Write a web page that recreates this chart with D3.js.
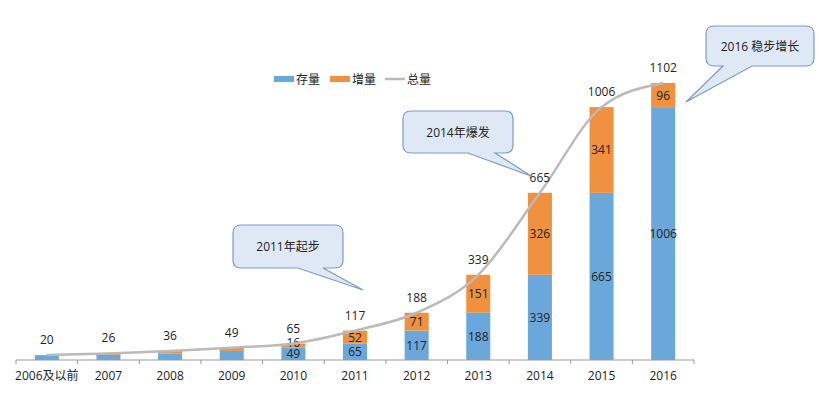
<!DOCTYPE html>
<html>
<head>
<meta charset="utf-8">
<script src="https://cdn.jsdelivr.net/npm/d3@7"></script>
<style>
  body { margin: 0; background: #fff; }
  svg text { font-family: "Open Sans", "Noto Sans CJK SC", sans-serif; fill: #222; }
</style>
</head>
<body>
<svg id="chart" width="819" height="396"></svg>
<script>
// ── Data ────────────────────────────────────────────
const years = ['2006及以前', '2007', '2008', '2009', '2010', '2011', '2012', '2013', '2014', '2015', '2016'];
const stock = [16, 20, 26, 36, 49, 65, 117, 188, 339, 665, 1006];
const increment = [4, 6, 10, 13, 16, 52, 71, 151, 326, 341, 96];
const total = [20, 26, 36, 49, 65, 117, 188, 339, 665, 1006, 1102];
const innerLabelFrom = 4; // inner labels shown from 2010 on

const notes = [
  { text: '2011年起步', box: [233, 225, 110, 43], base: [298, 323], tip: [363, 290] },
  { text: '2014年爆发', box: [403, 111, 110, 42], base: [468, 495], tip: [531, 176] },
  { text: '2016 稳步增长', box: [706, 26, 108, 40], base: [723, 752], tip: [686, 102] },
];

const COLORS = { stock: '#6aa8dc', inc: '#f0913f', total: '#bababa' };

// ── Scales ──────────────────────────────────────────
const svg = d3.select('#chart');
const x = d3.scaleBand().domain(years).range([16, 694]).paddingInner(0.61).paddingOuter(0.305);
const y = d3.scaleLinear().domain([0, 1102]).range([360, 83]);

const rows = years.map((yr, i) => ({ yr, i, s: stock[i], inc: increment[i], t: total[i] }));
const cx = d => x(d.yr) + x.bandwidth() / 2;

// ── Bars ────────────────────────────────────────────
const g = svg.append('g');
g.selectAll('.bar-s').data(rows).join('rect')
  .attr('x', d => x(d.yr)).attr('width', x.bandwidth())
  .attr('y', d => y(d.s)).attr('height', d => y(0) - y(d.s))
  .attr('fill', COLORS.stock);
g.selectAll('.bar-i').data(rows).join('rect')
  .attr('x', d => x(d.yr)).attr('width', x.bandwidth())
  .attr('y', d => y(d.s + d.inc)).attr('height', d => y(d.s) - y(d.s + d.inc))
  .attr('fill', COLORS.inc);

// axis
const axis = svg.append('g').attr('transform', `translate(0,${y(0)})`);
axis.append('line').attr('x1', 16).attr('x2', 694).attr('stroke', '#999').attr('stroke-width', 1.2);
const bounds = d3.range(years.length + 1).map(i => 16 + i * x.step());
axis.selectAll('.tk').data(bounds).join('line')
  .attr('x1', d => d).attr('x2', d => d).attr('y1', 0).attr('y2', 4)
  .attr('stroke', '#999');
axis.selectAll('.lbl').data(years).join('text')
  .attr('x', d => x(d) + x.bandwidth() / 2).attr('y', 20)
  .attr('text-anchor', 'middle').attr('font-size', 12).text(d => d);

// inner labels
const inner = rows.filter(d => d.i >= innerLabelFrom);
g.selectAll('.ls').data(inner).join('text')
  .attr('x', cx)
  .attr('y', d => (y(0) + y(d.s)) / 2 + 4.5)
  .attr('text-anchor', 'middle').attr('font-size', 12).text(d => d.s);
g.selectAll('.li').data(inner).join('text')
  .attr('x', cx)
  .attr('y', d => d.i === 4 ? y(d.s) - 1 : (y(d.s) + y(d.s + d.inc)) / 2 + 4.5)
  .attr('text-anchor', 'middle').attr('font-size', 12).text(d => d.inc);

// total line
const line = d3.line().x(cx).y(d => y(d.t)).curve(d3.curveMonotoneX);
svg.append('path').datum(rows).attr('d', line)
  .attr('fill', 'none').attr('stroke', COLORS.total).attr('stroke-width', 2.5);

// total labels
svg.selectAll('.lt').data(rows).join('text')
  .attr('x', cx)
  .attr('y', d => y(d.t) - 11)
  .attr('text-anchor', 'middle').attr('font-size', 12).text(d => d.t);

// ── Legend ──────────────────────────────────────────
const legend = svg.append('g').attr('transform', 'translate(274,79)');
const legItems = [
  { name: '存量', color: COLORS.stock, type: 'rect', dx: 0 },
  { name: '增量', color: COLORS.inc, type: 'rect', dx: 56 },
  { name: '总量', color: COLORS.total, type: 'line', dx: 111 },
];
legItems.forEach(it => {
  const lg = legend.append('g').attr('transform', `translate(${it.dx},0)`);
  if (it.type === 'rect') lg.append('rect').attr('x', 0).attr('y', -3).attr('width', 20).attr('height', 6).attr('fill', it.color);
  else lg.append('line').attr('x1', 0).attr('x2', 20).attr('stroke', it.color).attr('stroke-width', 2.5);
  lg.append('text').attr('x', 22).attr('y', 4.5).attr('font-size', 12).text(it.name);
});

// ── Callouts ────────────────────────────────────────
notes.forEach(n => {
  const [bx, by, bw, bh] = n.box;
  const r = 8;
  const p = d3.path();
  // rounded rect with a wedge on the bottom edge
  p.moveTo(bx + r, by);
  p.lineTo(bx + bw - r, by);
  p.quadraticCurveTo(bx + bw, by, bx + bw, by + r);
  p.lineTo(bx + bw, by + bh - r);
  p.quadraticCurveTo(bx + bw, by + bh, bx + bw - r, by + bh);
  p.lineTo(n.base[1], by + bh);
  p.lineTo(n.tip[0], n.tip[1]);
  p.lineTo(n.base[0], by + bh);
  p.lineTo(bx + r, by + bh);
  p.quadraticCurveTo(bx, by + bh, bx, by + bh - r);
  p.lineTo(bx, by + r);
  p.quadraticCurveTo(bx, by, bx + r, by);
  p.closePath();
  svg.append('path').attr('d', p.toString())
    .attr('fill', '#dfe9f6').attr('stroke', '#7b9cc4').attr('stroke-width', 1.2);
  svg.append('text').attr('x', bx + bw / 2).attr('y', by + bh / 2 + 4.5)
    .attr('text-anchor', 'middle').attr('font-size', 12).text(n.text);
});
</script>
</body>
</html>
